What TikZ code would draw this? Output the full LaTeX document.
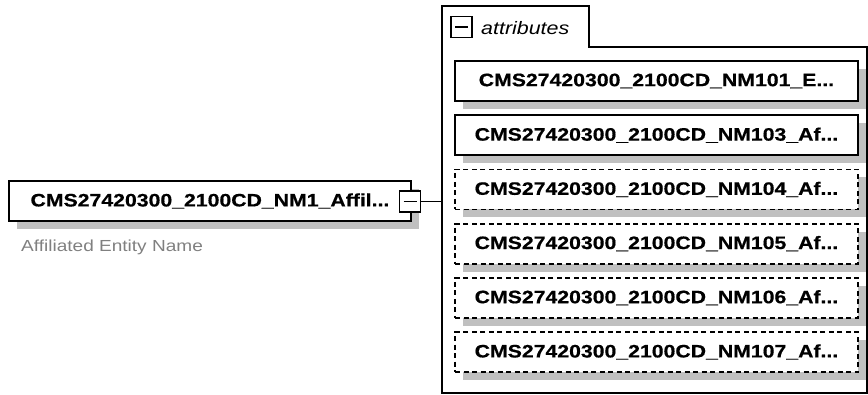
\documentclass[tikz,border=0pt]{standalone}
\usepackage{fontspec}
\usetikzlibrary{shadows}
\newfontfamily\nf{Liberation Sans}[FakeStretch=1.19]
\newfontfamily\nfb{Liberation Sans Bold}[FakeStretch=1.18, FakeBold=0.6]
\definecolor{shadowgray}{RGB}{192,192,192}
\definecolor{labelgray}{RGB}{128,128,128}
\tikzset{
  elembox/.style={draw=black, line width=1.8pt, fill=white, inner sep=0pt,
    minimum height=40pt, font=\nfb\fontsize{18}{20}\selectfont,
    drop shadow={shadow xshift=8pt, shadow yshift=-8pt, fill=shadowgray, opacity=1}},
  attrbox/.style={elembox, minimum width=403pt},
  optbox/.style={attrbox, dash pattern=on 5pt off 3.5pt},
  togglebox/.style={draw=black, line width=1.3pt, fill=white, minimum width=21pt, minimum height=21pt, inner sep=0pt},
  container/.style={draw=black, line width=1.5pt},
  conn/.style={draw=black, line width=1.3pt}
}
\begin{document}
\begin{tikzpicture}[x=1pt,y=-1pt]
\useasboundingbox (0,0) rectangle (868,394);
% container with tab
\draw[container] (442,393) -- (442,6) -- (589,6) -- (589,47) -- (867,47) -- (867,393) -- cycle;
\node[togglebox] (ttog) at (461.5,27) {};
\draw[line width=1.3pt] ([xshift=-6.5pt]ttog.center) -- ([xshift=6.5pt]ttog.center);
\node[anchor=west, inner sep=0pt, font=\nf\itshape\fontsize{18}{20}\selectfont] (tablabel) at (481,28) {attributes};
% main element
\node[elembox, minimum width=402pt] (main) at (210,201) {CMS27420300\_2100CD\_NM1\_Affil...};
\node[anchor=west, inner sep=0pt, text=labelgray, font=\nf\fontsize{16}{18}\selectfont] (mainlabel) at (21,247) {Affiliated Entity Name};
\node[togglebox] (mtog) at (410,201.5) {};
\draw[line width=1.3pt] ([xshift=-6.5pt]mtog.center) -- ([xshift=6.5pt]mtog.center);
\coordinate (cl) at (442,201.5);
\draw[conn] (mtog.east) -- (cl);
% attributes
\node[attrbox] (a101) at (656.5,81) {CMS27420300\_2100CD\_NM101\_E...};
\node[attrbox] (a103) at (656.5,135.2) {CMS27420300\_2100CD\_NM103\_Af...};
\node[optbox] (a104) at (656.5,189.4) {CMS27420300\_2100CD\_NM104\_Af...};
\node[optbox] (a105) at (656.5,243.6) {CMS27420300\_2100CD\_NM105\_Af...};
\node[optbox] (a106) at (656.5,297.8) {CMS27420300\_2100CD\_NM106\_Af...};
\node[optbox] (a107) at (656.5,352) {CMS27420300\_2100CD\_NM107\_Af...};
\end{tikzpicture}
\end{document}
